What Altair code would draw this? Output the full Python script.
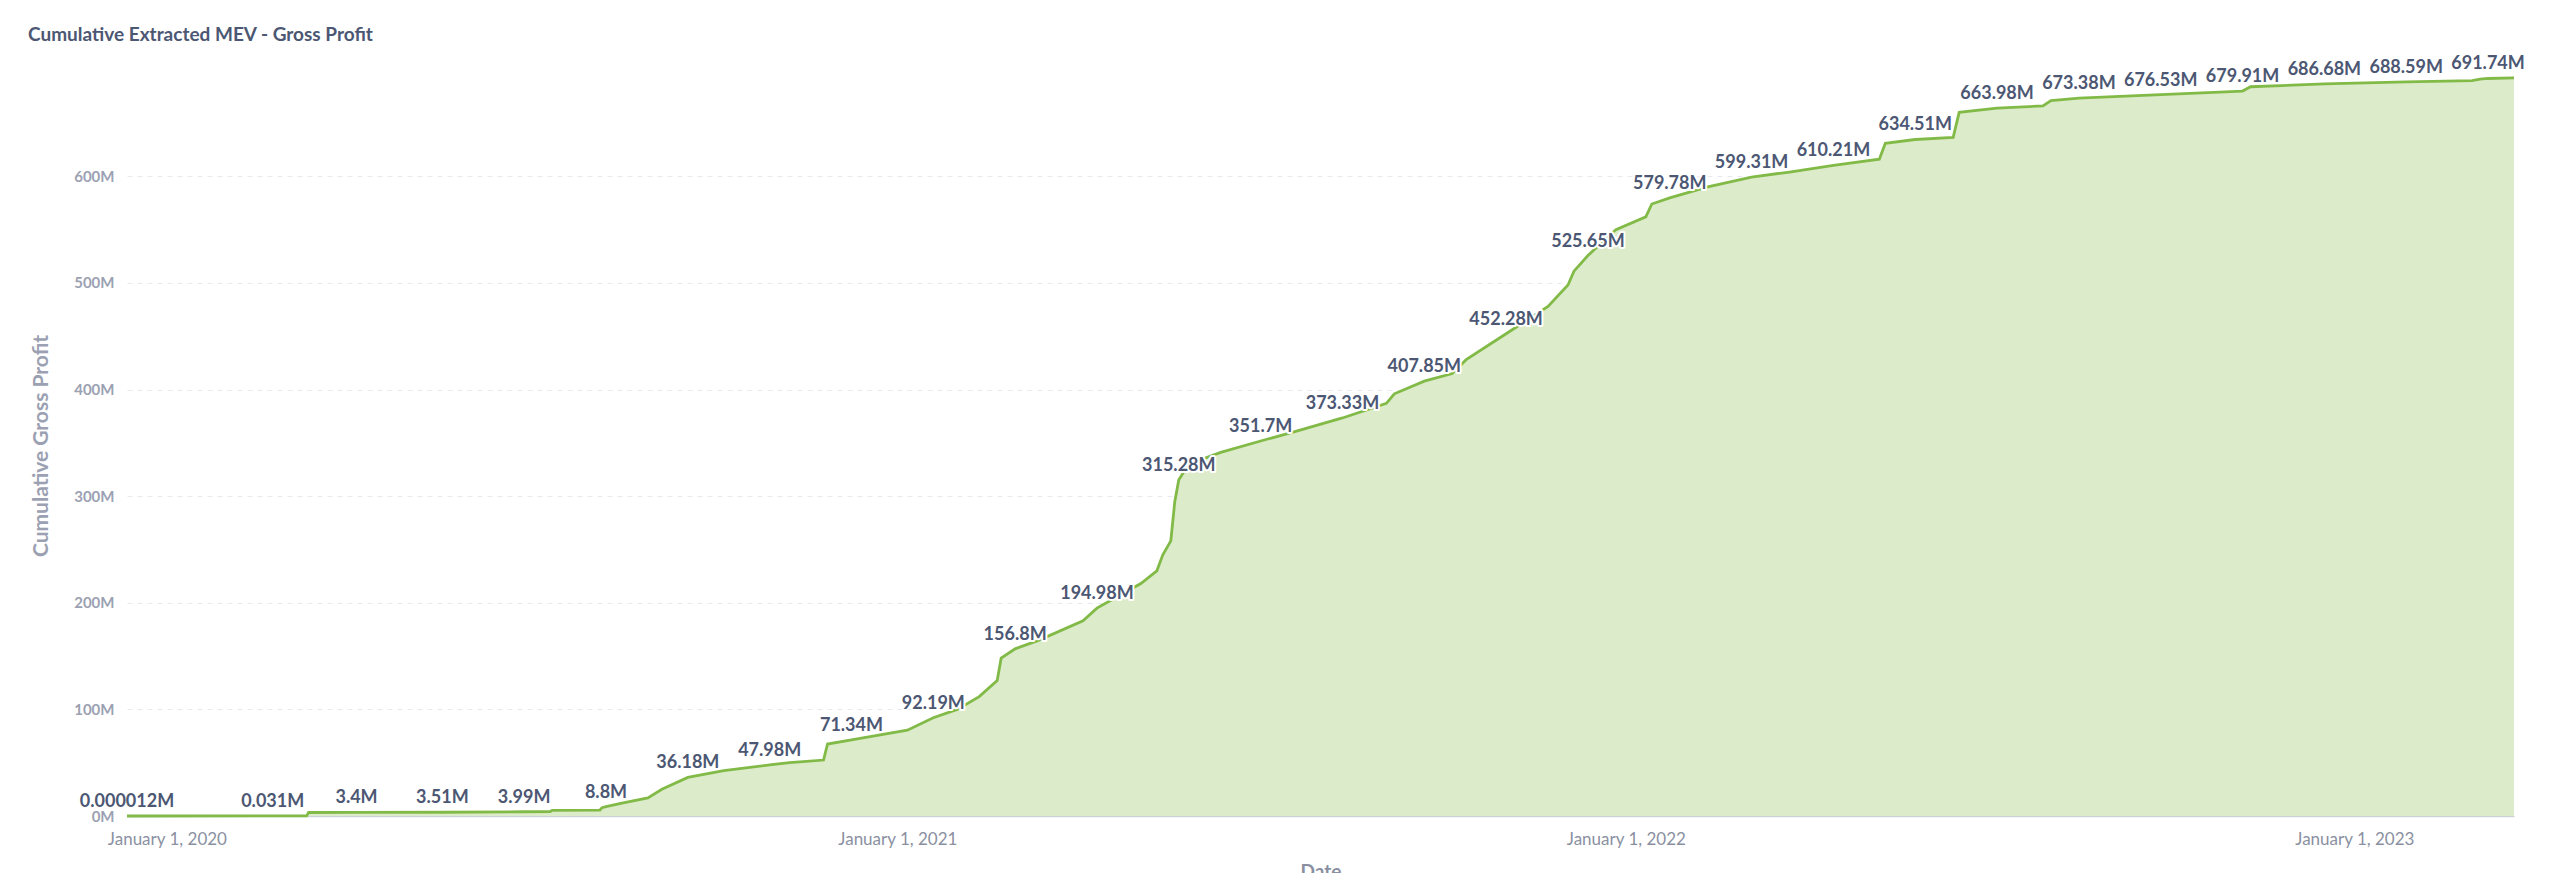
import altair as alt
import pandas as pd

# ---- data (values in millions) ----
curve_dates = [
    "2019-12-12", "2020-02-23", "2020-03-11", "2020-03-12", "2020-04-05", "2020-05-18",
    "2020-06-28", "2020-07-11", "2020-07-12", "2020-08-05", "2020-08-06", "2020-08-08",
    "2020-08-16", "2020-08-29", "2020-09-05", "2020-09-18", "2020-10-06", "2020-10-29",
    "2020-11-08", "2020-11-25", "2020-11-27", "2020-12-09", "2021-01-06", "2021-01-19",
    "2021-01-31", "2021-02-11", "2021-02-20", "2021-02-22", "2021-03-01", "2021-03-13",
    "2021-04-04", "2021-04-11", "2021-05-03", "2021-05-11", "2021-05-14", "2021-05-18",
    "2021-05-20", "2021-05-22", "2021-05-27", "2021-06-12", "2021-07-02", "2021-07-20",
    "2021-08-12", "2021-09-03", "2021-09-07", "2021-09-22", "2021-10-06", "2021-10-13",
    "2021-11-02", "2021-11-23", "2021-12-03", "2021-12-06", "2021-12-13", "2021-12-27",
    "2022-01-11", "2022-01-14", "2022-01-23", "2022-02-11", "2022-03-05", "2022-03-24",
    "2022-04-15", "2022-05-08", "2022-05-11", "2022-05-26", "2022-06-14", "2022-06-17",
    "2022-07-06", "2022-07-29", "2022-08-02", "2022-08-16", "2022-09-26", "2022-11-06",
    "2022-11-10", "2022-12-17", "2023-01-27", "2023-03-01", "2023-03-05", "2023-03-09",
    "2023-03-22",
]
curve_values = [
    0.000012, 0.031, 0.05, 3.3, 3.4, 3.51,
    3.99, 4.1, 5.3, 5.6, 7.8, 8.8,
    12, 17, 25, 36.18, 42.5, 47.98,
    50, 52.5, 67.5, 71.34, 80.5, 92.19,
    100, 112, 127, 148, 156.8, 165,
    183, 194.98, 218, 230, 245, 258,
    295, 315.28, 330, 341, 351.7, 361,
    373.33, 387, 396, 407.85, 415, 428,
    452.28, 478, 498, 511, 525.65, 550,
    562, 574, 579.78, 590, 599.31, 604,
    610.21, 616, 631, 634.51, 636.5, 660,
    663.98, 666, 671, 673.38, 676.53, 679.91,
    684, 686.68, 688.59, 689.8, 691.2, 691.74,
    692.3,
]

label_dates = [
    "2019-12-12", "2020-02-23", "2020-04-05", "2020-05-18", "2020-06-28", "2020-08-08",
    "2020-09-18", "2020-10-29", "2020-12-09", "2021-01-19", "2021-03-01", "2021-04-11",
    "2021-05-22", "2021-07-02", "2021-08-12", "2021-09-22", "2021-11-02", "2021-12-13",
    "2022-01-23", "2022-03-05", "2022-04-15", "2022-05-26", "2022-07-06", "2022-08-16",
    "2022-09-26", "2022-11-06", "2022-12-17", "2023-01-27", "2023-03-09",
]
label_values = [
    0.000012, 0.031, 3.4, 3.51, 3.99, 8.8,
    36.18, 47.98, 71.34, 92.19, 156.8, 194.98,
    315.28, 351.7, 373.33, 407.85, 452.28, 525.65,
    579.78, 599.31, 610.21, 634.51, 663.98, 673.38,
    676.53, 679.91, 686.68, 688.59, 691.74,
]

y_ticks = [0, 100, 200, 300, 400, 500, 600]
x_tick_years = [2020, 2021, 2022, 2023]


def fmt(v):
    return ("%f" % v).rstrip("0").rstrip(".") + "M"


curve = pd.DataFrame({"date": curve_dates, "value": curve_values})
labels = pd.DataFrame({"date": label_dates, "value": label_values,
                       "text": [fmt(v) for v in label_values]})

FONT = "Lato"
x_scale = alt.Scale(
    type="utc",
    domain=[alt.DateTime(year=2019, month=12, date=12, utc=True),
            alt.DateTime(year=2023, month=3, date=22, utc=True)],
    nice=False,
)
y_scale = alt.Scale(domain=[0, 695], nice=False, zero=True)

x_axis = alt.Axis(
    values=[alt.DateTime(year=y, month=1, date=1, utc=True) for y in x_tick_years],
    labelExpr="utcFormat(datum.value, '%B %-d, %Y')",
    grid=False, ticks=False, labelFlush=False,
    domainColor="#cdd1d8", domainWidth=1.5,
    labelFont=FONT, labelFontSize=17, labelColor="#8a90a1", labelPadding=15,
    title="Date", titleFont=FONT, titleFontSize=19, titleFontWeight="bold",
    titleColor="#8a90a1", titleBaseline="top", titleY=46,
)
y_axis = alt.Axis(
    values=y_ticks,
    labelExpr="datum.value + 'M'",
    grid=True, gridDash=[5, 5], gridColor="#e6e9ee", gridWidth=1,
    domain=False, ticks=False,
    labelFont=FONT, labelFontSize=15, labelFontWeight="bold", labelColor="#9ba1b2",
    labelPadding=13,
    title="Cumulative Gross Profit", titleFont=FONT, titleFontSize=21,
    titleFontWeight="bold", titleColor="#9ba1b2",
    titleAngle=-90, titleX=-86, titleBaseline="middle", titleAlign="center",
)

base = alt.Chart(curve).encode(
    x=alt.X("date:T", scale=x_scale, axis=x_axis),
    y=alt.Y("value:Q", scale=y_scale, axis=y_axis),
)
area = base.mark_area(color="#dcebc9", opacity=1)
line = base.mark_line(color="#82ba48", strokeWidth=2.8)

lab_base = alt.Chart(labels).encode(
    x=alt.X("date:T", scale=x_scale),
    y=alt.Y("value:Q", scale=y_scale),
    text="text:N",
)
halo = lab_base.mark_text(font=FONT, fontSize=18, fontWeight="bold", baseline="bottom",
                          dy=-5, color="white", stroke="white", strokeWidth=4,
                          strokeJoin="round")
txt = lab_base.mark_text(font=FONT, fontSize=18, fontWeight="bold", baseline="bottom",
                         dy=-5, color="#4c5773")

chart = alt.layer(area, line, halo, txt).properties(
    width=2387,
    height=741,
    title=alt.TitleParams(
        "Cumulative Extracted MEV - Gross Profit", anchor="start", frame="group",
        font=FONT, fontSize=19, fontWeight="bold", color="#4c5773",
        dx=-99, offset=10,
    ),
    autosize=alt.AutoSizeParams(type="none"),
    padding={"left": 127, "top": 75, "right": 46, "bottom": 57},
    background="white",
).configure_view(stroke=None)

chart.save("out.html", embed_options={"renderer": "svg", "actions": False})
